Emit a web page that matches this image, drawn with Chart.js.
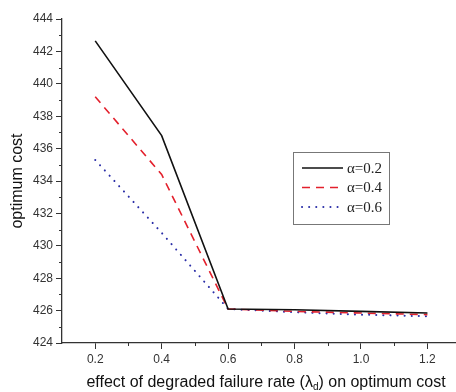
<!DOCTYPE html>
<html lang="en">
<head>
  <meta charset="UTF-8">
  <title>Optimum cost vs degraded failure rate</title>
  <script src="https://cdn.jsdelivr.net/npm/chart.js"></script>
  <style>
    body{margin:0;background:#fff;}
    .wrap{width:456px;height:392px;}
  </style>
</head>
<body>
<div class="wrap"><canvas id="costChart" width="456" height="392"></canvas></div>
<script>
// values
const lambdaD   = [0.2, 0.4, 0.6, 0.8, 1.0, 1.2];
const alpha02   = [442.65, 436.8, 426.1, 426.05, 425.95, 425.85];
const alpha04   = [439.2, 434.4, 426.1, 425.95, 425.85, 425.75];
const alpha06   = [435.3, 430.8, 426.1, 425.9, 425.75, 425.65];
const seriesNames = ['\u03b1=0.2', '\u03b1=0.4', '\u03b1=0.6'];
const xTicks = [0.2, 0.4, 0.6, 0.8, 1.0, 1.2];
const xMinor = [0.3, 0.5, 0.7, 0.9, 1.1];
const yTicks = [424, 426, 428, 430, 432, 434, 436, 438, 440, 442, 444];
const yMinor = [425, 427, 429, 431, 433, 435, 437, 439, 441, 443];

const pts = ys => lambdaD.map((x,i)=>({x:x, y:ys[i]}));

// minor ticks, x title with subscript and the boxed legend
const extras = {
  id:'extras',
  afterDraw(chart){
    const c=chart.ctx, xs=chart.scales.x, ys=chart.scales.y, a=chart.chartArea;
    c.save();
    c.strokeStyle='#333'; c.lineWidth=1;
    xMinor.forEach(v=>{const px=Math.round(xs.getPixelForValue(v))+0.5;c.beginPath();c.moveTo(px,a.bottom);c.lineTo(px,a.bottom+3);c.stroke();});
    yMinor.forEach(v=>{const py=Math.round(ys.getPixelForValue(v))+0.5;c.beginPath();c.moveTo(a.left,py);c.lineTo(a.left-3,py);c.stroke();});

    // x axis title
    c.fillStyle='#111'; c.textBaseline='alphabetic';
    const f='16px "Liberation Sans", Arial, sans-serif', fs='10px "Liberation Sans", Arial, sans-serif';
    const p1='effect of degraded failure rate (\u03bb', sub='d', p2=') on optimum cost';
    c.font=f; const w1=c.measureText(p1).width, w3=c.measureText(p2).width;
    c.font=fs; const w2=c.measureText(sub).width;
    let x0=266-(w1+w2+w3)/2; const by=387;
    c.font=f; c.fillText(p1,x0,by);
    c.font=fs; c.fillText(sub,x0+w1,by+3);
    c.font=f; c.fillText(p2,x0+w1+w2,by);

    // legend
    const L=293,T=152,W=96,H=72;
    c.strokeStyle='#777'; c.lineWidth=1;
    c.strokeRect(L+0.5,T+0.5,W,H);
    c.font='15px "Liberation Serif", "Times New Roman", serif';
    chart.data.datasets.forEach((ds,i)=>{
      const yy=T+16+i*19.5;
      c.beginPath(); c.strokeStyle=ds.borderColor; c.lineWidth=ds.borderWidth;
      c.setLineDash(ds.borderDash||[]); c.lineCap=ds.borderCapStyle||'butt';
      c.moveTo(L+9,yy); c.lineTo(L+50,yy); c.stroke();
      c.setLineDash([]);
      c.fillStyle='#222'; c.textBaseline='middle';
      c.fillText(ds.label,L+54,yy+1);
    });
    c.restore();
  }
};

new Chart(document.getElementById('costChart').getContext('2d'),{
  type:'line',
  data:{datasets:[
    {label:seriesNames[0],data:pts(alpha02),borderColor:'#111',borderWidth:1.6,pointRadius:0,tension:0},
    {label:seriesNames[1],data:pts(alpha04),borderColor:'#e3202c',borderWidth:1.6,borderDash:[8,6],pointRadius:0,tension:0},
    {label:seriesNames[2],data:pts(alpha06),borderColor:'#2b2fa8',borderWidth:2,borderDash:[0.1,7],borderCapStyle:'round',pointRadius:0,tension:0}
  ]},
  options:{
    responsive:false, animation:false,
    layout:{padding:{top:19,right:0,bottom:0,left:0}},
    plugins:{legend:{display:false},tooltip:{enabled:false}},
    scales:{
      x:{type:'linear',min:0.1,max:1.286,
        afterBuildTicks:s=>{s.ticks=xTicks.map(v=>({value:v}));},
        afterFit:s=>{s.height=49;},
        grid:{drawOnChartArea:false,drawTicks:true,tickLength:6,tickColor:'#333'},
        border:{color:'#333',width:1.3},
        ticks:{padding:3,color:'#333',font:{family:'"Liberation Sans", Arial, sans-serif',size:12},
          callback:v=>Number(v).toFixed(1)}
      },
      y:{min:424,max:444,
        afterBuildTicks:s=>{s.ticks=yTicks.map(v=>({value:v}));},
        afterFit:s=>{s.width=62;},
        grid:{drawOnChartArea:false,drawTicks:true,tickLength:6,tickColor:'#333'},
        border:{color:'#333',width:1.3},
        ticks:{padding:3,color:'#333',font:{family:'"Liberation Sans", Arial, sans-serif',size:12}},
        title:{display:true,text:'optimum cost',color:'#111',padding:{top:8,bottom:0},
          font:{family:'"Liberation Sans", Arial, sans-serif',size:16}}
      }
    }
  },
  plugins:[extras]
});
</script>
</body>
</html>
